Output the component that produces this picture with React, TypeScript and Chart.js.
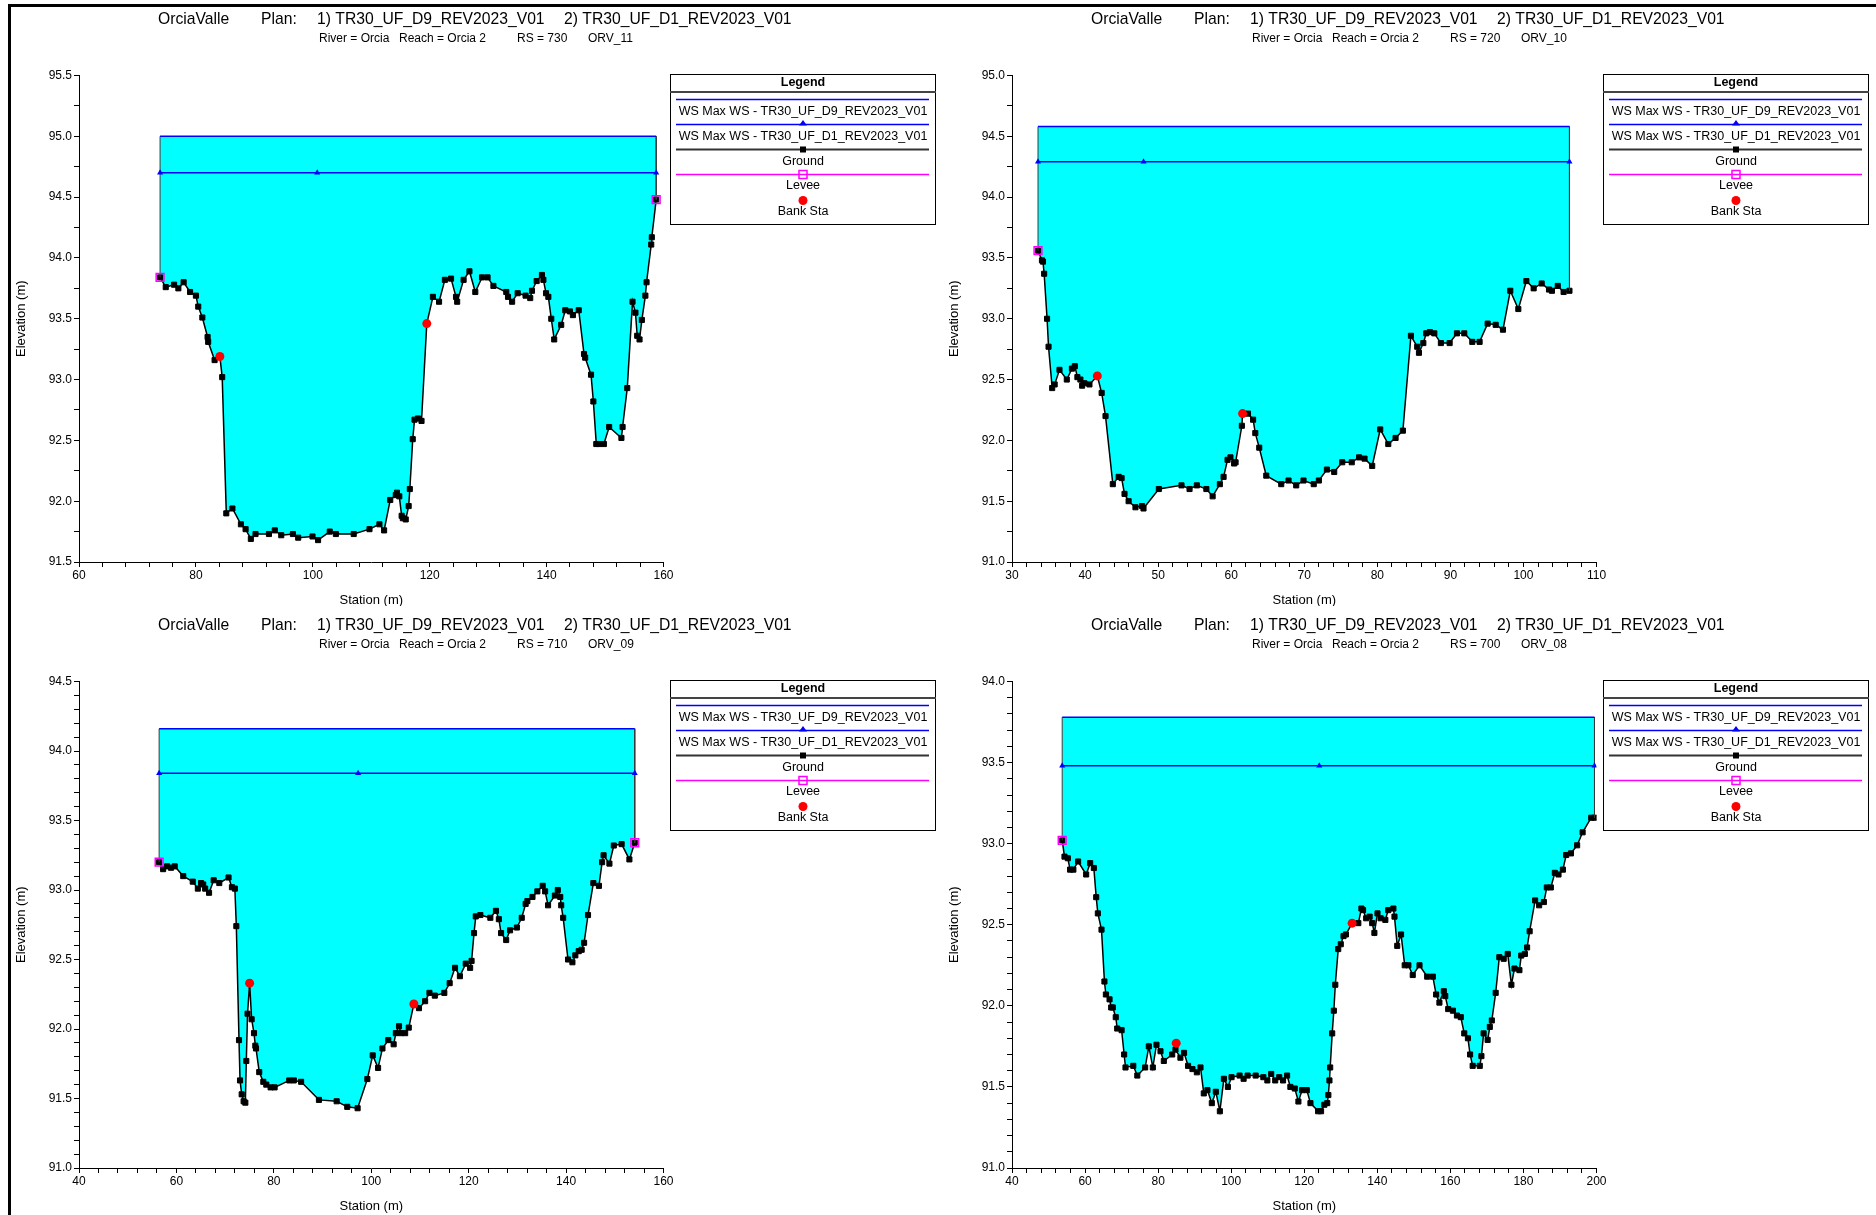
import React, { useEffect, useRef } from "react";
import { Chart, registerables } from "chart.js";

Chart.register(...registerables);

const FONT = "'Liberation Sans', Arial, Helvetica, sans-serif";
const CYAN = "#00ffff";
const BLUE = "#0000ff";
const MAGENTA = "#ff00ff";
const RED = "#ff0000";

const PROJECT = "OrciaValle";
const PLAN_LABEL = "Plan:";
const PLAN_1 = "1) TR30_UF_D9_REV2023_V01";
const PLAN_2 = "2) TR30_UF_D1_REV2023_V01";
const RIVER = "River = Orcia";
const REACH = "Reach = Orcia 2";
const LEGEND_ITEMS = [
  "WS Max WS - TR30_UF_D9_REV2023_V01",
  "WS Max WS - TR30_UF_D1_REV2023_V01",
  "Ground",
  "Levee",
  "Bank Sta",
];

// ---------- RS 730 (ORV_11) ----------
const TL_RS = "730";
const TL_NAME = "ORV_11";
const TL_STA = [73.87, 74.84, 76.27, 77.0, 77.9, 79.0, 80.0, 80.4, 81.1, 82.0, 82.1, 83.2, 84.1, 84.5, 85.2, 86.25, 87.7, 88.5, 89.4, 90.2, 92.5, 93.5, 94.6, 96.6, 97.5, 99.95, 100.9, 102.9, 103.95, 107.0, 109.7, 111.4, 112.2, 113.25, 114.2, 114.4, 114.8, 115.2, 115.4, 115.9, 116.4, 116.6, 117.1, 117.4, 118.0, 118.6, 119.5, 120.55, 121.6, 122.6, 123.65, 124.5, 124.7, 125.8, 126.8, 127.8, 128.95, 129.9, 130.9, 133.1, 133.4, 134.1, 135.05, 136.4, 137.2, 137.5, 138.3, 139.2, 139.45, 139.9, 140.3, 140.8, 141.3, 142.5, 143.2, 144.0, 144.5, 145.5, 146.4, 146.6, 147.6, 148.0, 148.5, 149.0, 149.8, 150.7, 152.8, 153.0, 153.8, 154.7, 155.2, 155.5, 155.9, 156.3, 156.9, 157.1, 157.9, 158.0, 158.75];
const TL_ELEV = [93.84, 93.76, 93.78, 93.75, 93.8, 93.72, 93.69, 93.6, 93.51, 93.35, 93.31, 93.16, 93.19, 93.02, 91.9, 91.94, 91.81, 91.77, 91.69, 91.73, 91.73, 91.76, 91.72, 91.73, 91.7, 91.71, 91.68, 91.75, 91.73, 91.73, 91.77, 91.81, 91.76, 92.01, 92.05, 92.07, 92.04, 91.88, 91.86, 91.85, 91.96, 92.1, 92.51, 92.67, 92.68, 92.66, 93.46, 93.68, 93.64, 93.82, 93.83, 93.68, 93.64, 93.82, 93.89, 93.72, 93.84, 93.84, 93.77, 93.72, 93.68, 93.64, 93.71, 93.69, 93.67, 93.73, 93.81, 93.86, 93.82, 93.71, 93.68, 93.5, 93.33, 93.45, 93.57, 93.56, 93.53, 93.57, 93.21, 93.18, 93.04, 92.82, 92.47, 92.47, 92.47, 92.61, 92.52, 92.61, 92.93, 93.64, 93.55, 93.36, 93.33, 93.49, 93.69, 93.8, 94.11, 94.17, 94.48];
const TL_WS_D9 = 95.0;
const TL_WS_D1 = 94.7;
const TL_WS_D1_MARKS = [73.87, 100.75, 158.75];
const TL_BANK_STA = [84.1, 119.5];
const TL_BANK_ELEV = [93.19, 93.46];
const TL_LEVEE_STA = [73.87, 158.75];
const TL_LEVEE_ELEV = [93.84, 94.48];
const TL_X_LABELS = [60, 80, 100, 120, 140, 160];
const TL_Y_LABELS = [91.5, 92.0, 92.5, 93.0, 93.5, 94.0, 94.5, 95.0, 95.5];

// ---------- RS 720 (ORV_10) ----------
const TR_RS = "720";
const TR_NAME = "ORV_10";
const TR_STA = [33.56, 34.1, 34.24, 34.4, 34.8, 35.0, 35.5, 35.84, 36.5, 37.5, 38.2, 38.6, 38.95, 39.36, 39.6, 39.9, 40.6, 41.68, 42.27, 42.8, 43.8, 44.6, 45.0, 45.4, 45.96, 46.9, 47.8, 48.0, 50.1, 53.2, 54.3, 55.3, 56.6, 57.46, 58.45, 58.96, 59.5, 59.9, 60.4, 60.6, 61.46, 61.56, 62.3, 63.0, 63.3, 63.84, 64.8, 66.85, 67.85, 68.9, 69.9, 71.3, 72.0, 73.1, 74.1, 75.2, 76.5, 77.5, 78.25, 79.3, 80.4, 81.5, 82.5, 83.5, 84.6, 85.46, 85.7, 86.3, 86.7, 87.2, 87.8, 88.7, 89.9, 90.9, 91.9, 93.0, 94.0, 95.1, 96.2, 97.2, 98.2, 99.3, 100.4, 101.4, 102.5, 103.5, 103.9, 104.7, 105.5, 106.3];
const TR_ELEV = [93.56, 93.48, 93.47, 93.37, 93.0, 92.77, 92.43, 92.46, 92.58, 92.5, 92.59, 92.61, 92.52, 92.5, 92.45, 92.47, 92.46, 92.53, 92.39, 92.2, 91.64, 91.7, 91.69, 91.56, 91.5, 91.45, 91.46, 91.44, 91.6, 91.63, 91.6, 91.63, 91.6, 91.54, 91.64, 91.7, 91.84, 91.86, 91.81, 91.82, 92.12, 92.22, 92.22, 92.17, 92.06, 91.94, 91.71, 91.64, 91.67, 91.63, 91.67, 91.64, 91.67, 91.76, 91.74, 91.82, 91.82, 91.86, 91.85, 91.79, 92.09, 91.97, 92.02, 92.08, 92.86, 92.77, 92.72, 92.8, 92.88, 92.89, 92.88, 92.8, 92.8, 92.88, 92.88, 92.81, 92.81, 92.96, 92.95, 92.91, 93.23, 93.08, 93.31, 93.25, 93.29, 93.24, 93.23, 93.27, 93.22, 93.23];
const TR_WS_D9 = 94.58;
const TR_WS_D1 = 94.29;
const TR_WS_D1_MARKS = [33.56, 48.0, 106.3];
const TR_BANK_STA = [41.68, 61.56];
const TR_BANK_ELEV = [92.53, 92.22];
const TR_LEVEE_STA = [33.56];
const TR_LEVEE_ELEV = [93.56];
const TR_X_LABELS = [30, 40, 50, 60, 70, 80, 90, 100, 110];
const TR_Y_LABELS = [91.0, 91.5, 92.0, 92.5, 93.0, 93.5, 94.0, 94.5, 95.0];

// ---------- RS 710 (ORV_09) ----------
const BL_RS = "710";
const BL_NAME = "ORV_09";
const BL_STA = [56.45, 57.27, 58.1, 58.9, 59.65, 61.4, 63.35, 64.4, 65.06, 65.5, 65.9, 66.7, 67.65, 68.8, 70.7, 71.4, 72.0, 72.3, 72.85, 73.06, 73.4, 73.8, 74.15, 74.35, 74.6, 75.03, 75.44, 75.93, 76.2, 76.34, 77.0, 77.84, 78.45, 79.34, 80.16, 83.17, 84.1, 85.6, 89.26, 92.9, 95.07, 97.2, 99.2, 100.3, 101.4, 102.3, 103.5, 104.6, 105.05, 105.7, 106.1, 106.96, 107.7, 108.75, 109.8, 111.06, 111.95, 113.05, 115.0, 116.1, 117.2, 118.2, 119.4, 120.3, 120.6, 121.1, 121.46, 122.4, 124.45, 125.6, 126.2, 126.65, 127.7, 128.5, 129.9, 130.9, 131.7, 132.05, 133.1, 134.1, 135.2, 135.7, 136.3, 137.7, 138.3, 138.8, 139.0, 139.4, 140.4, 141.3, 141.9, 142.6, 143.2, 143.7, 144.5, 145.6, 146.75, 147.4, 147.7, 148.9, 149.8, 151.4, 153.0, 154.1];
const BL_ELEV = [93.2, 93.15, 93.17, 93.16, 93.17, 93.1, 93.06, 93.01, 93.05, 93.04, 93.01, 92.98, 93.07, 93.05, 93.09, 93.02, 93.01, 92.74, 91.92, 91.63, 91.53, 91.48, 91.47, 91.77, 92.11, 92.33, 92.07, 91.97, 91.88, 91.86, 91.69, 91.62, 91.6, 91.58, 91.58, 91.63, 91.63, 91.62, 91.49, 91.48, 91.44, 91.43, 91.64, 91.81, 91.72, 91.86, 91.92, 91.89, 91.97, 92.02, 91.97, 91.97, 92.01, 92.18, 92.15, 92.2, 92.26, 92.24, 92.26, 92.33, 92.44, 92.38, 92.47, 92.44, 92.49, 92.69, 92.81, 92.82, 92.8, 92.85, 92.79, 92.69, 92.64, 92.71, 92.73, 92.8, 92.9, 92.92, 92.95, 92.99, 93.03, 92.99, 92.89, 92.96, 93.0, 92.95, 92.89, 92.8, 92.5, 92.48, 92.53, 92.56, 92.57, 92.62, 92.82, 93.05, 93.03, 93.2, 93.25, 93.19, 93.32, 93.33, 93.22, 93.34];
const BL_WS_D9 = 94.16;
const BL_WS_D1 = 93.84;
const BL_WS_D1_MARKS = [56.45, 97.3, 154.1];
const BL_BANK_STA = [75.03, 108.75];
const BL_BANK_ELEV = [92.33, 92.18];
const BL_LEVEE_STA = [56.45, 154.1];
const BL_LEVEE_ELEV = [93.2, 93.34];
const BL_X_LABELS = [40, 60, 80, 100, 120, 140, 160];
const BL_Y_LABELS = [91.0, 91.5, 92.0, 92.5, 93.0, 93.5, 94.0, 94.5];

// ---------- RS 700 (ORV_08) ----------
const BR_RS = "700";
const BR_NAME = "ORV_08";
const BR_STA = [53.74, 54.37, 55.28, 55.9, 56.8, 58.1, 60.3, 61.4, 62.4, 63.05, 63.5, 64.5, 65.3, 65.7, 66.7, 67.15, 67.6, 68.4, 68.8, 70.0, 70.7, 71.07, 73.2, 74.3, 76.45, 77.45, 78.55, 79.55, 80.65, 81.56, 83.85, 84.75, 86.1, 87.1, 88.2, 89.4, 90.6, 91.6, 92.5, 93.5, 94.7, 95.8, 96.9, 98.0, 99.1, 100.1, 102.3, 103.4, 104.5, 106.7, 108.8, 109.9, 110.95, 112.05, 113.15, 114.2, 115.3, 116.2, 117.4, 118.4, 119.4, 120.7, 121.7, 123.8, 124.6, 125.5, 126.3, 126.6, 126.9, 127.1, 127.65, 128.1, 128.5, 129.3, 130.0, 130.75, 131.4, 133.1, 134.8, 135.65, 136.1, 136.95, 137.9, 138.6, 139.2, 140.05, 140.9, 142.2, 143.0, 144.4, 144.7, 145.45, 146.5, 147.5, 148.5, 149.7, 151.55, 153.65, 155.2, 156.1, 157.0, 158.2, 158.6, 159.4, 160.7, 161.8, 162.85, 163.8, 164.8, 165.4, 166.1, 168.05, 168.5, 169.1, 170.2, 170.8, 171.35, 172.4, 173.4, 174.6, 175.7, 176.7, 177.55, 178.9, 179.4, 180.4, 181.0, 181.7, 183.2, 184.3, 185.6, 186.4, 187.5, 188.6, 189.6, 190.8, 191.7, 193.0, 194.7, 196.2, 198.55, 199.45];
const BR_ELEV = [93.02, 92.92, 92.91, 92.84, 92.84, 92.89, 92.81, 92.88, 92.85, 92.67, 92.57, 92.47, 92.15, 92.07, 92.04, 91.99, 91.99, 91.93, 91.86, 91.85, 91.7, 91.62, 91.63, 91.57, 91.62, 91.75, 91.62, 91.76, 91.72, 91.66, 91.7, 91.73, 91.68, 91.71, 91.63, 91.61, 91.59, 91.62, 91.46, 91.48, 91.4, 91.47, 91.35, 91.55, 91.5, 91.56, 91.57, 91.55, 91.57, 91.57, 91.56, 91.54, 91.58, 91.54, 91.56, 91.54, 91.57, 91.5, 91.49, 91.41, 91.48, 91.48, 91.4, 91.35, 91.35, 91.39, 91.4, 91.45, 91.54, 91.62, 91.83, 91.97, 92.13, 92.35, 92.38, 92.43, 92.44, 92.51, 92.51, 92.6, 92.59, 92.54, 92.55, 92.51, 92.45, 92.57, 92.54, 92.53, 92.59, 92.6, 92.55, 92.37, 92.44, 92.25, 92.25, 92.19, 92.25, 92.18, 92.18, 92.07, 92.02, 92.09, 92.06, 91.98, 91.97, 91.94, 91.93, 91.83, 91.8, 91.7, 91.63, 91.63, 91.69, 91.83, 91.79, 91.87, 91.91, 92.08, 92.3, 92.29, 92.32, 92.13, 92.23, 92.22, 92.31, 92.32, 92.36, 92.46, 92.65, 92.62, 92.64, 92.73, 92.73, 92.82, 92.81, 92.84, 92.93, 92.94, 92.99, 93.07, 93.16, 93.16];
const BR_WS_D9 = 93.78;
const BR_WS_D1 = 93.48;
const BR_WS_D1_MARKS = [53.74, 124.1, 199.45];
const BR_BANK_STA = [84.95, 133.1];
const BR_BANK_ELEV = [91.77, 92.51];
const BR_LEVEE_STA = [53.74];
const BR_LEVEE_ELEV = [93.02];
const BR_X_LABELS = [40, 60, 80, 100, 120, 140, 160, 180, 200];
const BR_Y_LABELS = [91.0, 91.5, 92.0, 92.5, 93.0, 93.5, 94.0];

type PanelData = {
  rs: string;
  name: string;
  sta: number[];
  elev: number[];
  wsD9: number;
  wsD1: number;
  wsD1Marks: number[];
  bankSta: number[];
  bankElev: number[];
  leveeSta: number[];
  leveeElev: number[];
  xLabels: number[];
  yLabels: number[];
  xMinor: number;
  yMinor: number;
};

const PANELS: PanelData[] = [
  { rs: TL_RS, name: TL_NAME, sta: TL_STA, elev: TL_ELEV, wsD9: TL_WS_D9, wsD1: TL_WS_D1, wsD1Marks: TL_WS_D1_MARKS, bankSta: TL_BANK_STA, bankElev: TL_BANK_ELEV, leveeSta: TL_LEVEE_STA, leveeElev: TL_LEVEE_ELEV, xLabels: TL_X_LABELS, yLabels: TL_Y_LABELS, xMinor: 4, yMinor: 0.25 },
  { rs: TR_RS, name: TR_NAME, sta: TR_STA, elev: TR_ELEV, wsD9: TR_WS_D9, wsD1: TR_WS_D1, wsD1Marks: TR_WS_D1_MARKS, bankSta: TR_BANK_STA, bankElev: TR_BANK_ELEV, leveeSta: TR_LEVEE_STA, leveeElev: TR_LEVEE_ELEV, xLabels: TR_X_LABELS, yLabels: TR_Y_LABELS, xMinor: 2, yMinor: 0.25 },
  { rs: BL_RS, name: BL_NAME, sta: BL_STA, elev: BL_ELEV, wsD9: BL_WS_D9, wsD1: BL_WS_D1, wsD1Marks: BL_WS_D1_MARKS, bankSta: BL_BANK_STA, bankElev: BL_BANK_ELEV, leveeSta: BL_LEVEE_STA, leveeElev: BL_LEVEE_ELEV, xLabels: BL_X_LABELS, yLabels: BL_Y_LABELS, xMinor: 4, yMinor: 0.1 },
  { rs: BR_RS, name: BR_NAME, sta: BR_STA, elev: BR_ELEV, wsD9: BR_WS_D9, wsD1: BR_WS_D1, wsD1Marks: BR_WS_D1_MARKS, bankSta: BR_BANK_STA, bankElev: BR_BANK_ELEV, leveeSta: BR_LEVEE_STA, leveeElev: BR_LEVEE_ELEV, xLabels: BR_X_LABELS, yLabels: BR_Y_LABELS, xMinor: 4, yMinor: 0.1 },
];

// layout of each panel canvas in the page
const BOXES = [
  { left: 0, top: 0, width: 938, height: 606 },
  { left: 933, top: 0, width: 943, height: 606 },
  { left: 0, top: 606, width: 938, height: 609 },
  { left: 933, top: 606, width: 943, height: 609 },
];

const AREA = { left: 79, top: 75.5, right: 663.5, bottom: 562 };

function isMultiple(v: number, step: number) {
  const r = v / step;
  return Math.abs(r - Math.round(r)) < 1e-6;
}

function drawLegend(ctx: CanvasRenderingContext2D) {
  const lx = 670, ly = 74, w = 266, h = 151;
  const cx = lx + w / 2;
  ctx.save();
  ctx.fillStyle = "#fff";
  ctx.fillRect(lx, ly, w, h);
  ctx.strokeStyle = "#000";
  ctx.lineWidth = 1;
  ctx.strokeRect(lx + 0.5, ly + 0.5, w - 1, h - 1);
  ctx.fillStyle = "#000";
  ctx.textAlign = "center";
  ctx.textBaseline = "middle";
  ctx.font = `bold 12.5px ${FONT}`;
  ctx.fillText("Legend", cx, ly + 8.5);
  ctx.strokeStyle = "#444";
  ctx.lineWidth = 2;
  ctx.beginPath();
  ctx.moveTo(lx, ly + 18);
  ctx.lineTo(lx + w, ly + 18);
  ctx.stroke();

  const x0 = lx + 6, x1 = lx + w - 7;
  ctx.font = `12.5px ${FONT}`;
  // WS D9
  ctx.strokeStyle = BLUE;
  ctx.lineWidth = 1.5;
  ctx.beginPath();
  ctx.moveTo(x0, ly + 25.5);
  ctx.lineTo(x1, ly + 25.5);
  ctx.stroke();
  ctx.fillText(LEGEND_ITEMS[0], cx, ly + 37.5);
  // WS D1
  ctx.beginPath();
  ctx.moveTo(x0, ly + 50.5);
  ctx.lineTo(x1, ly + 50.5);
  ctx.stroke();
  ctx.fillStyle = BLUE;
  ctx.beginPath();
  ctx.moveTo(cx, ly + 46);
  ctx.lineTo(cx + 4, ly + 51.5);
  ctx.lineTo(cx - 4, ly + 51.5);
  ctx.closePath();
  ctx.fill();
  ctx.fillStyle = "#000";
  ctx.fillText(LEGEND_ITEMS[1], cx, ly + 62.5);
  // Ground
  ctx.strokeStyle = "#333";
  ctx.lineWidth = 2;
  ctx.beginPath();
  ctx.moveTo(x0, ly + 75.5);
  ctx.lineTo(x1, ly + 75.5);
  ctx.stroke();
  ctx.fillRect(cx - 3, ly + 72.5, 6, 6);
  ctx.fillText(LEGEND_ITEMS[2], cx, ly + 87.5);
  // Levee
  ctx.strokeStyle = MAGENTA;
  ctx.lineWidth = 1.5;
  ctx.beginPath();
  ctx.moveTo(x0, ly + 100.5);
  ctx.lineTo(x1, ly + 100.5);
  ctx.stroke();
  ctx.strokeRect(cx - 4, ly + 96.5, 8, 8);
  ctx.fillText(LEGEND_ITEMS[3], cx, ly + 112);
  // Bank Sta
  ctx.fillStyle = RED;
  ctx.beginPath();
  ctx.arc(cx, ly + 126.5, 4.5, 0, Math.PI * 2);
  ctx.fill();
  ctx.fillStyle = "#000";
  ctx.fillText(LEGEND_ITEMS[4], cx, ly + 138);
  ctx.restore();
}

function makeTextPlugin(p: PanelData) {
  return {
    id: "panelText",
    afterDraw(chart: any) {
      const ctx: CanvasRenderingContext2D = chart.ctx;
      ctx.save();
      ctx.fillStyle = "#000";
      ctx.textBaseline = "middle";
      ctx.textAlign = "left";
      ctx.font = `15.7px ${FONT}`;
      ctx.fillText(PROJECT, 158, 20);
      ctx.fillText(PLAN_LABEL, 261, 20);
      ctx.fillText(PLAN_1, 317, 20);
      ctx.fillText(PLAN_2, 564, 20);
      ctx.font = `12px ${FONT}`;
      ctx.fillText(RIVER, 319, 39);
      ctx.fillText(REACH, 399, 39);
      ctx.fillText(`RS = ${p.rs}`, 517, 39);
      ctx.fillText(p.name, 588, 39);
      // axis titles
      ctx.font = `13px ${FONT}`;
      ctx.textAlign = "center";
      ctx.fillText("Station (m)", (AREA.left + AREA.right) / 2, 600);
      ctx.save();
      ctx.translate(21.5, (AREA.top + AREA.bottom) / 2);
      ctx.rotate(-Math.PI / 2);
      ctx.fillText("Elevation (m)", 0, 0);
      ctx.restore();
      ctx.restore();
      drawLegend(ctx);
    },
  };
}

function buildConfig(p: PanelData, width: number, height: number): any {
  const n = p.sta.length;
  const x0 = p.sta[0], xN = p.sta[n - 1];
  const ground = p.sta.map((x, i) => ({ x, y: p.elev[i] }));
  const edges = [
    { x: x0, y: p.elev[0] },
    { x: x0, y: p.wsD9 },
    { x: (x0 + xN) / 2, y: null },
    { x: xN, y: p.wsD9 },
    { x: xN, y: p.elev[n - 1] },
  ];
  const xMin = p.xLabels[0], xMax = p.xLabels[p.xLabels.length - 1];
  const yMin = p.yLabels[0], yMax = p.yLabels[p.yLabels.length - 1];
  const xLabelStep = p.xLabels[1] - p.xLabels[0];
  const yLabelStep = p.yLabels[1] - p.yLabels[0];
  const tickFont = { family: FONT, size: 12 };
  return {
    type: "scatter",
    data: {
      datasets: [
        {
          label: "Bank Sta",
          data: p.bankSta.map((x, i) => ({ x, y: p.bankElev[i] })),
          showLine: false,
          pointStyle: "circle",
          pointRadius: 4.5,
          pointBackgroundColor: RED,
          pointBorderColor: RED,
          pointBorderWidth: 0,
          order: 0,
        },
        {
          label: "Levee",
          data: p.leveeSta.map((x, i) => ({ x, y: p.leveeElev[i] })),
          showLine: false,
          pointStyle: "rect",
          pointRadius: 5.5,
          pointBackgroundColor: "rgba(0,0,0,0)",
          pointBorderColor: MAGENTA,
          pointBorderWidth: 1.5,
          order: 1,
        },
        {
          label: "WS D1",
          data: p.wsD1Marks.map((x) => ({ x, y: p.wsD1 })),
          showLine: true,
          borderColor: BLUE,
          borderWidth: 1.5,
          pointStyle: "triangle",
          pointRadius: 3.5,
          pointBackgroundColor: BLUE,
          pointBorderColor: BLUE,
          pointBorderWidth: 0,
          order: 2,
        },
        {
          label: "WS D9",
          data: [{ x: x0, y: p.wsD9 }, { x: xN, y: p.wsD9 }],
          showLine: true,
          borderColor: BLUE,
          borderWidth: 1.5,
          pointRadius: 0,
          order: 3,
        },
        {
          label: "edges",
          data: edges,
          showLine: true,
          spanGaps: false,
          borderColor: "#3a3a3a",
          borderWidth: 1,
          pointRadius: 0,
          order: 4,
        },
        {
          label: "Ground",
          data: ground,
          showLine: true,
          borderColor: "#000",
          borderWidth: 1.5,
          pointStyle: "rect",
          pointRadius: 3.6,
          pointBackgroundColor: "#000",
          pointBorderColor: "#000",
          pointBorderWidth: 1,
          fill: { target: { value: p.wsD9 }, above: CYAN, below: CYAN },
          order: 5,
        },
      ],
    },
    options: {
      responsive: false,
      animation: false,
      devicePixelRatio: 1,
      events: [],
      layout: { padding: { left: 0, top: AREA.top, right: width - AREA.right, bottom: 0 } },
      plugins: {
        legend: { display: false },
        tooltip: { enabled: false },
        title: { display: false },
        filler: { propagate: false, drawTime: "beforeDatasetsDraw" },
      },
      scales: {
        x: {
          type: "linear",
          min: xMin,
          max: xMax,
          afterFit: (s: any) => {
            s.height = height - AREA.bottom;
          },
          ticks: {
            stepSize: p.xMinor,
            autoSkip: false,
            maxRotation: 0,
            minRotation: 0,
            padding: 1,
            color: "#000",
            font: tickFont,
            callback: (v: number) => (isMultiple(v - xMin, xLabelStep) ? String(Math.round(v)) : ""),
          },
          grid: { display: true, drawOnChartArea: false, drawTicks: true, tickLength: 5, color: "#000", tickColor: "#000", tickWidth: 1 },
          border: { display: true, color: "#000", width: 1 },
        },
        y: {
          type: "linear",
          min: yMin,
          max: yMax,
          afterFit: (s: any) => {
            s.width = AREA.left;
          },
          ticks: {
            stepSize: p.yMinor,
            autoSkip: false,
            padding: 2,
            color: "#000",
            font: tickFont,
            callback: (v: number) => (isMultiple(v - yMin, yLabelStep) ? v.toFixed(1) : ""),
          },
          grid: { display: true, drawOnChartArea: false, drawTicks: true, tickLength: 5, color: "#000", tickColor: "#000", tickWidth: 1 },
          border: { display: true, color: "#000", width: 1 },
        },
      },
    },
    plugins: [makeTextPlugin(p)],
  };
}

function PanelChart({ panel, box }: { panel: PanelData; box: { left: number; top: number; width: number; height: number } }) {
  const ref = useRef<HTMLCanvasElement>(null);
  useEffect(() => {
    const chart = new Chart(ref.current as HTMLCanvasElement, buildConfig(panel, box.width, box.height));
    return () => chart.destroy();
  }, []);
  return (
    <canvas
      ref={ref}
      width={box.width}
      height={box.height}
      style={{ position: "absolute", left: box.left, top: box.top, width: box.width, height: box.height, display: "block" }}
    />
  );
}

export default function App() {
  return (
    <div style={{ position: "absolute", left: 0, top: 0, width: 1876, height: 1215, background: "#fff", overflow: "hidden" }}>
      {PANELS.map((p, i) => (
        <PanelChart key={i} panel={p} box={BOXES[i]} />
      ))}
      <div style={{ position: "absolute", left: 8, top: 4, width: 1868, height: 3, background: "#000" }} />
      <div style={{ position: "absolute", left: 8, top: 4, width: 3, height: 1211, background: "#000" }} />
    </div>
  );
}
